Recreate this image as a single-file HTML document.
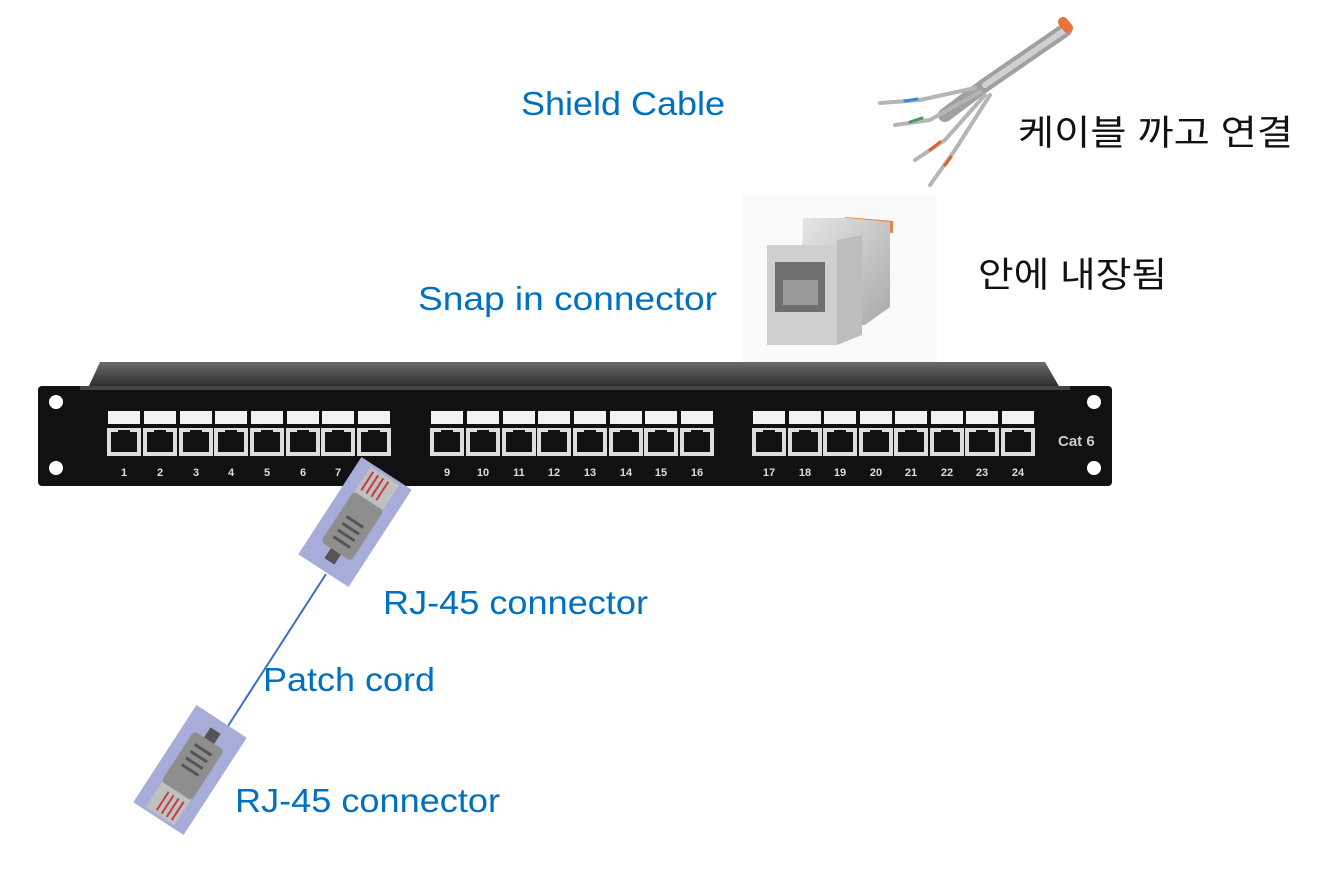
<!DOCTYPE html>
<html><head><meta charset="utf-8"><style>
html,body{margin:0;padding:0;background:#fff}
svg{display:block}
.b{font-family:"Liberation Sans","Noto Sans CJK KR",sans-serif;fill:#0070c0;font-size:33px}
.k{font-family:"Liberation Sans","Noto Sans CJK KR",sans-serif;fill:#111;font-size:35px}
.n{font-family:"Liberation Sans",sans-serif;fill:#ddd;font-size:11px;font-weight:bold;text-anchor:middle}
</style></head><body>
<svg width="1319" height="870" viewBox="0 0 1319 870" xmlns="http://www.w3.org/2000/svg">
<defs>
<g id="p"><rect x="-17" y="0" width="34" height="28" fill="#ddd"/><path d="M-13 4h7v-2h12v2h7v20h-26z" fill="#111"/></g>
<g id="l"><rect x="-16" y="0" width="32" height="13" fill="#f2f2f2"/></g>
<linearGradient id="top" x1="0" y1="0" x2="0" y2="1"><stop offset="0" stop-color="#6a6a6a"/><stop offset="1" stop-color="#2a2a2a"/></linearGradient>
<linearGradient id="met" x1="0" y1="0" x2="1" y2="1"><stop offset="0" stop-color="#e6e6e6"/><stop offset="1" stop-color="#a9a9a9"/></linearGradient>
</defs>
<text class="b" x="521" y="115" textLength="204" lengthAdjust="spacingAndGlyphs">Shield Cable</text>
<text class="b" x="418" y="310" textLength="299" lengthAdjust="spacingAndGlyphs">Snap in connector</text>
<text class="b" x="383" y="614" textLength="265" lengthAdjust="spacingAndGlyphs">RJ-45 connector</text>
<text class="b" x="263" y="691" textLength="172" lengthAdjust="spacingAndGlyphs">Patch cord</text>
<text class="b" x="235" y="812" textLength="265" lengthAdjust="spacingAndGlyphs">RJ-45 connector</text>
<text class="k" x="1018" y="145" textLength="275" lengthAdjust="spacingAndGlyphs">케이블 까고 연결</text>
<text class="k" x="978" y="287" textLength="189" lengthAdjust="spacingAndGlyphs">안에 내장됨</text>
<!-- cable -->
<g stroke-linecap="round" fill="none">
<path d="M1065 30 L985 85 L945 115" stroke="#a0a0a0" stroke-width="14"/>
<path d="M1065 30 L985 85" stroke="#d0d0d0" stroke-width="6" stroke-dasharray="3 3"/>
<path d="M1068 28 l-5 -6" stroke="#e8743b" stroke-width="10"/>
<path d="M975 88 L920 100 L880 103" stroke="#b5b5b5" stroke-width="4"/>
<path d="M905 101 l12 -2" stroke="#3a88d0" stroke-width="3"/>
<path d="M980 92 L930 120 L895 125" stroke="#b5b5b5" stroke-width="4"/>
<path d="M910 122 l12 -4" stroke="#3aa060" stroke-width="3"/>
<path d="M985 95 L945 140 L915 160" stroke="#b5b5b5" stroke-width="4"/>
<path d="M930 150 l10 -8" stroke="#e0602a" stroke-width="3"/>
<path d="M990 95 L955 150 L930 185" stroke="#b5b5b5" stroke-width="4"/>
<path d="M945 165 l6 -8" stroke="#e0602a" stroke-width="3"/>
</g>
<!-- snap in -->
<rect x="742" y="195" width="195" height="185" fill="#fafafa"/>
<path d="M845 217 l48 4 v12 l-48 -4z" fill="#e8823e"/>
<path d="M803 218 h45 l42 4 v85 l-25 18 h-65z" fill="url(#met)"/>
<path d="M767 245 h70 v100 h-70z" fill="#cfcfcf"/>
<path d="M775 262 h50 v50 h-50z" fill="#6f6f6f"/>
<path d="M783 280 h35 v25 h-35z" fill="#9a9a9a"/>
<path d="M837 240 l25 -5 v100 l-25 10z" fill="#bdbdbd"/>
<!-- panel -->
<path d="M100 362 H1045 L1060 388 H88 Z" fill="url(#top)"/>
<rect x="38" y="386" width="1074" height="100" rx="4" fill="#111"/>
<rect x="80" y="386" width="990" height="4" fill="#444"/>
<circle cx="56" cy="402" r="7" fill="#fff"/><circle cx="56" cy="468" r="7" fill="#fff"/>
<circle cx="1094" cy="402" r="7" fill="#fff"/><circle cx="1094" cy="468" r="7" fill="#fff"/>
<g transform="translate(0,411)">
<use href="#l" x="124"/><use href="#l" x="160"/><use href="#l" x="196"/><use href="#l" x="231"/><use href="#l" x="267"/><use href="#l" x="303"/><use href="#l" x="338"/><use href="#l" x="374"/>
<use href="#l" x="447"/><use href="#l" x="483"/><use href="#l" x="519"/><use href="#l" x="554"/><use href="#l" x="590"/><use href="#l" x="626"/><use href="#l" x="661"/><use href="#l" x="697"/>
<use href="#l" x="769"/><use href="#l" x="805"/><use href="#l" x="840"/><use href="#l" x="876"/><use href="#l" x="911"/><use href="#l" x="947"/><use href="#l" x="982"/><use href="#l" x="1018"/>
</g>
<g transform="translate(0,428)">
<use href="#p" x="124"/><use href="#p" x="160"/><use href="#p" x="196"/><use href="#p" x="231"/><use href="#p" x="267"/><use href="#p" x="303"/><use href="#p" x="338"/><use href="#p" x="374"/>
<use href="#p" x="447"/><use href="#p" x="483"/><use href="#p" x="519"/><use href="#p" x="554"/><use href="#p" x="590"/><use href="#p" x="626"/><use href="#p" x="661"/><use href="#p" x="697"/>
<use href="#p" x="769"/><use href="#p" x="805"/><use href="#p" x="840"/><use href="#p" x="876"/><use href="#p" x="911"/><use href="#p" x="947"/><use href="#p" x="982"/><use href="#p" x="1018"/>
</g>
<g>
<text class="n" x="124" y="476">1</text><text class="n" x="160" y="476">2</text><text class="n" x="196" y="476">3</text><text class="n" x="231" y="476">4</text><text class="n" x="267" y="476">5</text><text class="n" x="303" y="476">6</text><text class="n" x="338" y="476">7</text>
<text class="n" x="447" y="476">9</text><text class="n" x="483" y="476">10</text><text class="n" x="519" y="476">11</text><text class="n" x="554" y="476">12</text><text class="n" x="590" y="476">13</text><text class="n" x="626" y="476">14</text><text class="n" x="661" y="476">15</text><text class="n" x="697" y="476">16</text>
<text class="n" x="769" y="476">17</text><text class="n" x="805" y="476">18</text><text class="n" x="840" y="476">19</text><text class="n" x="876" y="476">20</text><text class="n" x="911" y="476">21</text><text class="n" x="947" y="476">22</text><text class="n" x="982" y="476">23</text><text class="n" x="1018" y="476">24</text>
</g>
<text x="1058" y="446" style="font-family:'Liberation Sans',sans-serif;font-size:15px;font-weight:bold;fill:#ccc">Cat 6</text>
<!-- patch cord -->
<line x1="326" y1="574" x2="228" y2="726" stroke="#3a70c0" stroke-width="2"/>
<g transform="translate(355,522) rotate(33)">
<rect x="-30" y="-58" width="60" height="116" fill="#a8acd8"/>
<rect x="-17" y="-55" width="34" height="30" fill="#c0c0c0"/>
<path d="M-12 -52 v22 M-6 -52 v22 M0 -52 v22 M6 -52 v22" stroke="#c04040" stroke-width="2"/>
<rect x="-18" y="-25" width="36" height="60" rx="4" fill="#8e8e8e"/>
<path d="M-10 0 h20 M-10 8 h20 M-10 16 h20 M-10 24 h20" stroke="#555" stroke-width="3"/>
<rect x="-6" y="35" width="12" height="12" fill="#555"/>
</g>
<g transform="translate(190,770) rotate(213)">
<rect x="-30" y="-58" width="60" height="116" fill="#a8acd8"/>
<rect x="-17" y="-55" width="34" height="30" fill="#c0c0c0"/>
<path d="M-12 -52 v22 M-6 -52 v22 M0 -52 v22 M6 -52 v22" stroke="#c04040" stroke-width="2"/>
<rect x="-18" y="-25" width="36" height="60" rx="4" fill="#8e8e8e"/>
<path d="M-10 0 h20 M-10 8 h20 M-10 16 h20 M-10 24 h20" stroke="#555" stroke-width="3"/>
<rect x="-6" y="35" width="12" height="12" fill="#555"/>
</g>
</svg>
</body></html>
